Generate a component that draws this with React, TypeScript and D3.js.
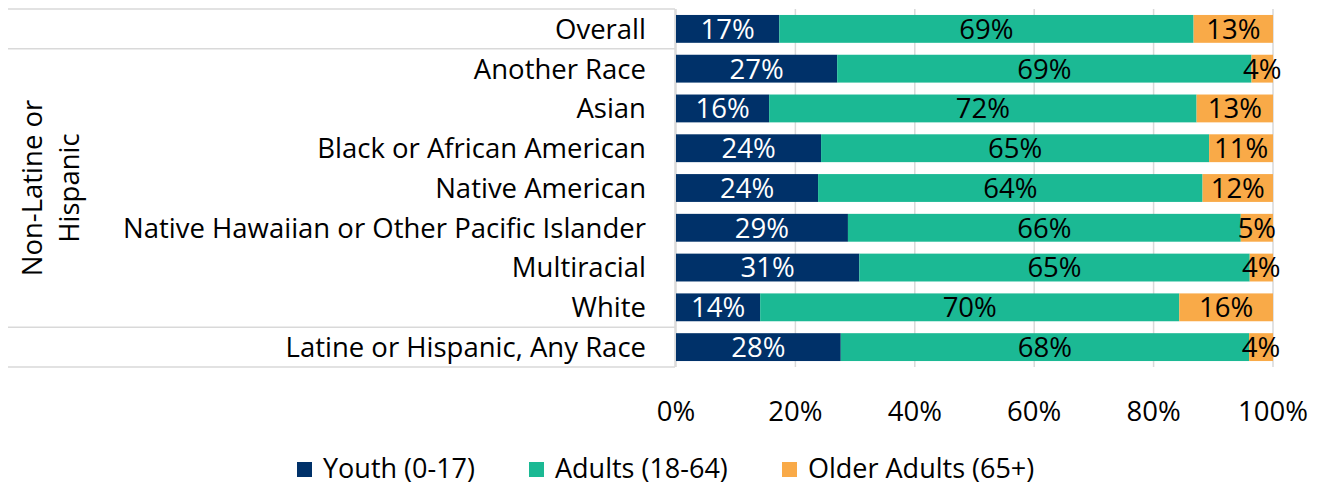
import React from "react";
import * as d3 from "d3";

const categories = [
  "Overall",
  "Another Race",
  "Asian",
  "Black or African American",
  "Native American",
  "Native Hawaiian or Other Pacific Islander",
  "Multiracial",
  "White",
  "Latine or Hispanic, Any Race",
];
const youth = [17.3, 27.0, 15.6, 24.3, 23.8, 28.8, 30.7, 14.1, 27.6];
const adults = [69.4, 69.4, 71.6, 65.0, 64.4, 65.8, 65.4, 70.2, 68.4];
const older = [13.3, 3.6, 12.8, 10.7, 11.8, 5.4, 3.9, 15.7, 4.0];
const labelsYouth = ["17%", "27%", "16%", "24%", "24%", "29%", "31%", "14%", "28%"];
const labelsAdults = ["69%", "69%", "72%", "65%", "64%", "66%", "65%", "70%", "68%"];
const labelsOlder = ["13%", "4%", "13%", "11%", "12%", "5%", "4%", "16%", "4%"];
const seriesNames = ["Youth (0-17)", "Adults (18-64)", "Older Adults (65+)"];
const tickValues = [0, 20, 40, 60, 80, 100];
const groupLabelLines = ["Non-Latine or", "Hispanic"];

const colors = ["#003169", "#1bb994", "#f9aa48"];
const FONT = "'Open Sans', 'Noto Sans', sans-serif";

export default function App() {
  const W = 1323, H = 486;
  const FS = 27.5;
  const x = d3.scaleLinear().domain([0, 100]).range([676, 1273]);
  const y = d3.scaleBand<string>().domain(categories).range([9, 367]).paddingInner(0.3).paddingOuter(0.15);
  const rowY = d3.scaleBand<string>().domain(categories).range([9, 367]);
  const series = [youth, adults, older];
  const labels = [labelsYouth, labelsAdults, labelsOlder];
  const tableLeft = 8, tableRight = 675;
  const grid = "#d9d9d9";
  const legendX = [297, 529, 782];

  return (
    <div style={{ position: "absolute", left: 0, top: 0, width: W, height: H, background: "#fff" }}>
      <svg width={W} height={H} style={{ display: "block" }} fontFamily={FONT}>
        {tickValues.map((t) => (
          <line key={t} x1={x(t)} x2={x(t)} y1={9} y2={367} stroke={grid} strokeWidth={1.5} />
        ))}
        {[rowY("Overall")!, rowY("Another Race")!, rowY("Latine or Hispanic, Any Race")!, 367].map((yy, i) => (
          <line key={i} x1={tableLeft} x2={tableRight} y1={yy} y2={yy} stroke={grid} strokeWidth={1.5} />
        ))}
        <line x1={tableRight} x2={tableRight} y1={9} y2={367} stroke={grid} strokeWidth={1.5} />
        {categories.map((c, i) => {
          let acc = 0;
          return (
            <g key={c}>
              {series.map((s, k) => {
                const x0 = x(acc);
                acc += s[i];
                const x1 = x(acc);
                const cx = (x0 + x1) / 2;
                const cy = y(c)! + y.bandwidth() / 2;
                return (
                  <g key={k}>
                    <rect x={x0} y={y(c)!} width={Math.max(0, x1 - x0)} height={y.bandwidth()} fill={colors[k]} />
                    <text x={cx} y={cy} dy="0.36em" textAnchor="middle" fontSize={FS} fill={k === 0 ? "#fff" : "#000"}>
                      {labels[k][i]}
                    </text>
                  </g>
                );
              })}
              <text x={646} y={rowY(c)! + rowY.bandwidth() / 2} dy="0.36em" textAnchor="end" fontSize={FS} fill="#000">
                {c}
              </text>
            </g>
          );
        })}
        <g transform={`translate(51, ${(rowY("Another Race")! + rowY("Latine or Hispanic, Any Race")!) / 2}) rotate(-90)`}>
          {groupLabelLines.map((l, i) => (
            <text key={i} x={0} y={(i - 0.5) * 37} dy="0.36em" textAnchor="middle" fontSize={FS} fill="#000">
              {l}
            </text>
          ))}
        </g>
        {tickValues.map((t) => (
          <text key={t} x={x(t)} y={411} dy="0.36em" textAnchor="middle" fontSize={FS} fill="#000">
            {t}%
          </text>
        ))}
        {seriesNames.map((n, k) => (
          <g key={n}>
            <rect x={legendX[k]} y={462} width={15} height={15} fill={colors[k]} />
            <text x={legendX[k] + 26} y={468} dy="0.36em" fontSize={FS - 0.5} fill="#000">
              {n}
            </text>
          </g>
        ))}
      </svg>
    </div>
  );
}
